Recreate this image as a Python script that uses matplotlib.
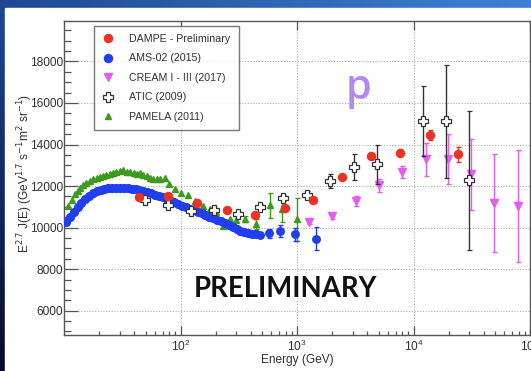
import numpy as np
import matplotlib
matplotlib.use('Agg')
import matplotlib.pyplot as plt
from matplotlib.lines import Line2D
from matplotlib.patches import Rectangle
from matplotlib.ticker import LogLocator, MultipleLocator, NullFormatter, FixedLocator

# ---------------- data: E^2.7 x proton flux vs kinetic energy ----------------
dampe_e = [43.5, 77.8, 138, 248, 438, 783, 1366, 2412, 4287, 7670, 13740, 24270]
dampe_f = [11490, 11520, 11200, 10850, 10600, 10930, 11330, 12450, 13470, 13600, 14480, 13520]
dampe_err = [90, 90, 90, 100, 100, 110, 120, 130, 140, 160, 240, 380]

ams_e = [10.3, 11.1, 12.0, 13.0, 14.0, 15.1, 16.3, 17.6, 19.0, 20.5, 22.1, 23.9,
         25.8, 27.9, 30.1, 32.5, 35.1, 37.9, 40.9, 44.2, 47.7, 51.5, 55.6, 60.1,
         64.9, 70.1, 75.7, 81.7, 88.3, 95.3, 103, 111, 120, 130, 140, 151, 163,
         176, 190, 206, 222, 240, 259, 280, 302, 326, 352, 380, 411, 444]
ams_f = [10290, 10520, 10740, 10980, 11190, 11380, 11540, 11670, 11760, 11820, 11860, 11890,
         11910, 11920, 11925, 11920, 11910, 11880, 11850, 11800, 11750, 11700, 11650, 11590,
         11530, 11450, 11370, 11290, 11210, 11130, 11050, 10970, 10900, 10830, 10760, 10690, 10610,
         10530, 10450, 10380, 10300, 10220, 10130, 10040, 9950, 9860, 9790, 9740, 9710, 9680]
ams_hi_e = [476, 573, 717, 953, 1443]
ams_hi_f = [9645, 9726, 9837, 9678, 9472]
ams_hi_err = [100, 216, 300, 300, 535]

cream_e = [1262, 2005, 3220, 5035, 8000, 12680, 19720, 31260, 49550, 78570]
cream_f = [10270, 10560, 11280, 12030, 12670, 13280, 13310, 12560, 11170, 11040]
cream_err = [120, 150, 240, 320, 300, 780, 1200, 1690, 2350, 2700]

atic_e = [49, 77, 123, 193, 309, 484, 762, 1218, 1928, 3055, 4842, 12030, 19100, 29850]
atic_f = [11310, 11070, 10800, 10845, 10672, 11008, 11420, 11570, 12237, 12928, 13040, 15117, 15117, 12270]
atic_err = [60, 70, 80, 90, 100, 110, 130, 170, 350, 615, 960, 1690, 2710, 3340]

pam_e = [10.8, 11.6, 12.3, 13.0, 13.6, 14.5, 15.5, 16.5, 17.7, 19.0, 20.3, 21.5,
         23.0, 24.6, 26.2, 28.0, 30.0, 32.0, 34.5, 37.0, 39.5, 42.0, 44.5, 47.5,
         51.0, 54.0, 58.0, 62.0, 67.0, 73.0, 80.0, 89.0, 101, 116, 132, 155, 177,
         202, 231, 263, 300]
pam_f = [11040, 11350, 11600, 11780, 11920, 12040, 12160, 12240, 12320, 12380, 12430, 12480,
         12530, 12580, 12640, 12680, 12720, 12750, 12700, 12660, 12640, 12580, 12620, 12530,
         12460, 12400, 12330, 12320, 12360, 12400, 12080, 11840, 11680, 11550, 11280, 11040, 10880,
         10750, 10080, 10430, 10380]
pam_hi_e = [354, 447, 589, 746, 996]
pam_hi_f = [10400, 10160, 11070, 10910, 10400]
pam_hi_err = [150, 240, 600, 640, 1040]

labels = ['DAMPE - Preliminary', 'AMS-02 (2015)', 'CREAM I - III (2017)', 'ATIC (2009)', 'PAMELA (2011)']
x_major = [1e2, 1e3, 1e4, 1e5]

c_dampe = '#ec3223'
c_ams = '#1f3ff0'
c_cream = '#e45cf0'
c_atic = '#333333'
c_pam = '#3c9a1c'

W, H = 531, 371
fig = plt.figure(figsize=(W / 100, H / 100), dpi=100)

# slide background: blue gradient with a white panel
bg = fig.add_axes([0, 0, 1, 1], zorder=-10)
yy, xx = np.mgrid[0:1:64j, 0:1:64j]
tl = np.array([30, 72, 150]) / 255
tr = np.array([62, 130, 212]) / 255
bl = np.array([8, 10, 45]) / 255
br = np.array([22, 42, 110]) / 255
img = ((1 - yy)[..., None] * ((1 - xx)[..., None] * tl + xx[..., None] * tr)
       + yy[..., None] * ((1 - xx)[..., None] * bl + xx[..., None] * br))
bg.imshow(img, aspect='auto', extent=[0, 1, 0, 1], origin='upper')
bg.add_patch(Rectangle((5 / W, 0), 1, 1 - 7.5 / H, color='white', transform=bg.transAxes))
bg.set_xlim(0, 1)
bg.set_ylim(0, 1)
bg.axis('off')

ax = fig.add_axes([64.3 / W, (H - 335) / H, (530 - 64.3) / W, (335 - 20.7) / H])
ax.set_xscale('log')
ax.set_xlim(10, 1e5)
ax.set_ylim(4830, 19960)

ax.grid(True, which='major', linestyle=(0, (1, 1.5)), color='#aaaaaa', linewidth=0.8)
ax.set_axisbelow(True)

for s in ax.spines.values():
    s.set_color('#555555')
    s.set_linewidth(1.0)

ax.yaxis.set_major_locator(MultipleLocator(2000))
ax.yaxis.set_minor_locator(MultipleLocator(500))
ax.xaxis.set_major_locator(FixedLocator(x_major))
ax.xaxis.set_minor_locator(LogLocator(base=10, subs=np.arange(2, 10), numticks=20))
ax.xaxis.set_minor_formatter(NullFormatter())
ax.tick_params(axis='y', which='major', direction='in', length=10, width=0.9, color='#555555',
               labelsize=8.6, labelcolor='#333333', pad=1)
ax.tick_params(axis='y', which='minor', direction='in', length=5, width=0.9, color='#555555')
ax.tick_params(axis='x', which='major', direction='in', length=6.5, width=0.9, color='#555555',
               labelsize=8.6, labelcolor='#333333', pad=3, top=True)
ax.tick_params(axis='x', which='minor', direction='in', length=3.2, width=0.9, color='#555555', top=False)
for t in ax.get_xticklabels() + ax.get_yticklabels():
    t.set_fontfamily('Liberation Sans')

ekw = dict(linestyle='none', capsize=1.8, elinewidth=1.0, capthick=1.0)

ax.errorbar(pam_hi_e, pam_hi_f, yerr=pam_hi_err, fmt='^', color=c_pam, ms=4.6, zorder=3, **ekw)
ax.plot(pam_e, pam_f, '^', color=c_pam, ms=4.6, linestyle='none', zorder=3)
ax.plot(ams_e, ams_f, 'o', color=c_ams, ms=5.6, linestyle='none', zorder=4)
ax.errorbar(ams_hi_e, ams_hi_f, yerr=ams_hi_err, fmt='o', color=c_ams, ms=5.4, zorder=4, **ekw)
ax.errorbar(cream_e, cream_f, yerr=cream_err, fmt='v', color=c_cream, ms=6, zorder=5, **ekw)
ax.errorbar(atic_e, atic_f, yerr=atic_err, fmt='P', color=c_atic, mfc='white', mec=c_atic,
            mew=0.9, ms=7.2, zorder=6, **ekw)
ax.errorbar(dampe_e, dampe_f, yerr=dampe_err, fmt='o', color=c_dampe, ms=5.8, zorder=7, **ekw)

handles = [
    Line2D([], [], marker='o', color=c_dampe, linestyle='none', ms=5.8),
    Line2D([], [], marker='o', color=c_ams, linestyle='none', ms=5.8),
    Line2D([], [], marker='v', color=c_cream, linestyle='none', ms=5.8),
    Line2D([], [], marker='P', color=c_atic, mfc='white', mew=0.9, linestyle='none', ms=6.8),
    Line2D([], [], marker='^', color=c_pam, linestyle='none', ms=5),
]
leg = ax.legend(handles, labels, loc='upper left', bbox_to_anchor=(94 / W, 1 - 26 / H),
                bbox_transform=fig.transFigure, frameon=True, fancybox=False,
                prop={'family': 'Liberation Sans', 'size': 7.7}, labelspacing=0.88,
                handlelength=1.2, handletextpad=1.35, borderpad=0.75, borderaxespad=0)
leg.get_frame().set_edgecolor('#555555')
leg.get_frame().set_linewidth(1.0)
for t in leg.get_texts():
    t.set_color('#333333')

ax.set_xlabel('Energy (GeV)', fontfamily='Liberation Sans', fontsize=8.6, color='#333333', labelpad=0)
fig.text(25 / W, 1 - 174 / H,
         r'E$^{2.7}$ J(E) (GeV$^{1.7}$ s$^{-1}$m$^{2}$ sr$^{-1}$)',
         rotation=90, ha='center', va='center', fontfamily='Liberation Sans',
         fontsize=8.6, color='#333333')

ax.text(359 / W, 1 - 88 / H, 'p', transform=fig.transFigure, ha='center', va='center',
        fontsize=30, color='#b08af0', fontfamily='Open Sans', fontweight='semibold', zorder=8)
ax.text(286 / W, 1 - 289 / H, 'PRELIMINARY', transform=fig.transFigure, ha='center', va='center',
        fontsize=19.8, fontweight='bold', color='#111111', fontfamily='Lato', zorder=8)

fig.savefig('out.png', dpi=100)
